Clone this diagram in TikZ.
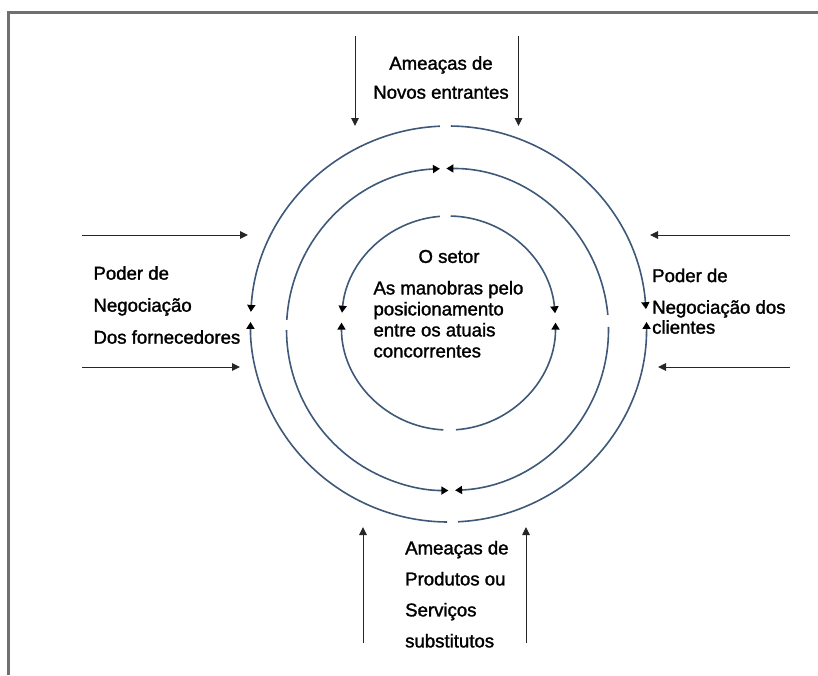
\documentclass[tikz,border=0pt]{standalone}
\usepackage{fontspec}
\setmainfont{Liberation Sans}
\newfontfamily\lblfont{Liberation Sans}[FakeBold=1.5]
\usetikzlibrary{arrows.meta}
\definecolor{ringblue}{RGB}{62,88,120}
\definecolor{framegray}{RGB}{112,112,112}
\begin{document}
\begin{tikzpicture}[x=1pt,y=-1pt,
  lbl/.style={inner sep=0pt, text=black},
  force/.style={draw=black!85, line width=1pt, -{Triangle[width=7.5pt,length=8pt]}},
  ring/.style={draw=ringblue, line width=1.6pt},
  ringtip/.style={ring, -{Triangle[width=8pt,length=7pt,color=black]}}]
\useasboundingbox (0,0) rectangle (818,675);
% frame (only top and left edges visible)
\draw[framegray, line width=2.2pt] (818,12.5) -- (8.5,12.5) -- (8.5,675);

% ring centres
\coordinate (C1) at (448.5,324);
\coordinate (C2) at (447.5,329.5);
\coordinate (C3) at (448.5,323);

% outer ring
\draw[ringtip] (C1) ++(267.5:198) arc[start angle=267.5, end angle=183.5, radius=198];
\draw[ringtip] (C1) ++(270.7:198) arc[start angle=270.7, end angle=355.7, radius=198];
\draw[ringtip] (C1) ++(90.4:198) arc[start angle=90.4, end angle=180.6, radius=198];
\draw[ringtip] (C1) ++(87.25:198) arc[start angle=87.25, end angle=-0.6, radius=198];

% middle ring
\draw[ringtip] (C2) ++(183.4:161) arc[start angle=183.4, end angle=267.3, radius=161];
\draw[ringtip] (C2) ++(354.8:161) arc[start angle=354.8, end angle=269.6, radius=161];
\draw[ringtip] (C2) ++(179.8:161) arc[start angle=179.8, end angle=89.7, radius=161];
\draw[ringtip] (C2) ++(-0.9:161) arc[start angle=-0.9, end angle=87.3, radius=161];

% inner ring
\draw[ringtip] (C3) ++(265.4:107) arc[start angle=265.4, end angle=185.5, radius=107];
\draw[ringtip] (C3) ++(271.2:107) arc[start angle=271.2, end angle=354.8, radius=107];
\draw[ringtip] (C3) ++(92.8:107) arc[start angle=92.8, end angle=180.2, radius=107];
\draw[ringtip] (C3) ++(86:107) arc[start angle=86, end angle=-0.2, radius=107];

% force arrows
\coordinate (ta1) at (355,36);  \coordinate (tb1) at (355,126);
\coordinate (ta2) at (518.5,36); \coordinate (tb2) at (518.5,126);
\coordinate (la1) at (82,235);  \coordinate (lb1) at (248,235);
\coordinate (la2) at (82,367);  \coordinate (lb2) at (240,367);
\coordinate (ra1) at (790,235); \coordinate (rb1) at (650,235);
\coordinate (ra2) at (790,367); \coordinate (rb2) at (658,367);
\coordinate (ba1) at (363,643); \coordinate (bb1) at (363,527);
\coordinate (ba2) at (526,643); \coordinate (bb2) at (526,527);
\draw[force] (ta1) -- (tb1);
\draw[force] (ta2) -- (tb2);
\draw[force] (la1) -- (lb1);
\draw[force] (la2) -- (lb2);
\draw[force] (ra1) -- (rb1);
\draw[force] (ra2) -- (rb2);
\draw[force] (ba1) -- (bb1);
\draw[force] (ba2) -- (bb2);

% texts
\node[lbl, align=center, anchor=north, font=\lblfont\fontsize{18.6}{29}\selectfont] (entrants) at (441,56)
  {Ameaças de\\Novos entrantes};
\node[lbl, align=left, anchor=north west, font=\lblfont\fontsize{18.6}{32}\selectfont] (suppliers) at (93.3,266)
  {Poder de\\Negociação\\Dos fornecedores};
\node[lbl, align=left, anchor=north west, font=\lblfont\fontsize{18.6}{20}\selectfont] (buyers) at (652,268.4)
  {Poder de\\[11.6pt]Negociação dos\\clientes};
\node[lbl, align=left, anchor=north west, font=\lblfont\fontsize{18.6}{31}\selectfont] (substitutes) at (405,540.7)
  {Ameaças de\\Produtos ou\\Serviços\\substitutos};
\node[lbl, anchor=north, font=\lblfont\fontsize{18.6}{21}\selectfont] (sector) at (449,249.7) {O setor};
\node[lbl, align=left, anchor=north west, font=\lblfont\fontsize{18.6}{21}\selectfont] (rivalry) at (373.3,280.7)
  {As manobras pelo\\posicionamento\\entre os atuais\\concorrentes};
\end{tikzpicture}
\end{document}
